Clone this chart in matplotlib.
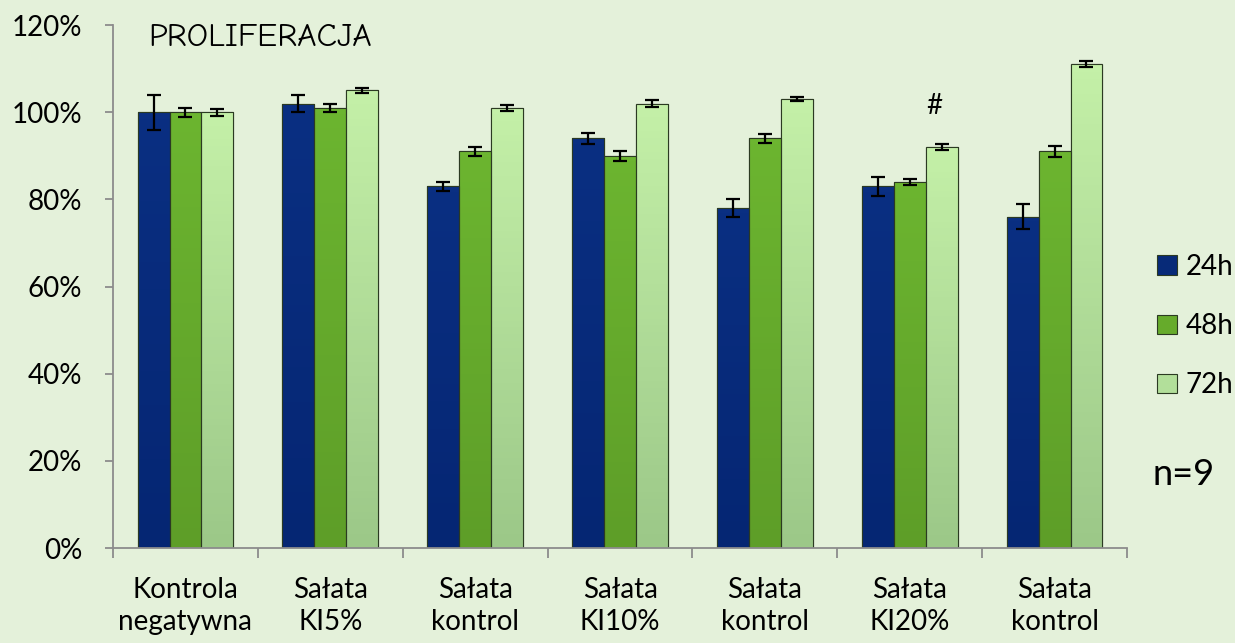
"""Proliferacja: słupki 24h/48h/72h z odchyleniami, odtworzenie wykresu."""

import matplotlib

matplotlib.use("Agg")

import matplotlib.pyplot as plt
import numpy as np
from matplotlib.colors import LinearSegmentedColormap
from matplotlib.ticker import FixedLocator, PercentFormatter

CATEGORIES = [
    "Kontrola\nnegatywna",
    "Sałata\nKI5%",
    "Sałata\nkontrol",
    "Sałata\nKI10%",
    "Sałata\nkontrol",
    "Sałata\nKI20%",
    "Sałata\nkontrol",
]
SERIES = ["24h", "48h", "72h"]
VALUES_24H = [1.00, 1.02, 0.83, 0.94, 0.78, 0.83, 0.76]
VALUES_48H = [1.00, 1.01, 0.91, 0.90, 0.94, 0.84, 0.91]
VALUES_72H = [1.00, 1.05, 1.01, 1.02, 1.03, 0.92, 1.11]
ERR_24H = [0.040, 0.020, 0.010, 0.013, 0.020, 0.022, 0.029]
ERR_48H = [0.010, 0.010, 0.010, 0.012, 0.010, 0.006, 0.013]
ERR_72H = [0.008, 0.005, 0.007, 0.008, 0.005, 0.006, 0.007]

COLORS = ["#072a78", "#66ab2b", "#b2df9a"]
# gradient (góra -> dół) dla każdej serii
GRADIENTS = [
    ["#0a2f82", "#052673"],
    ["#6cb530", "#5e9e28"],
    ["#c4f0a8", "#9cc888"],
]
BACKGROUND = "#e4f1da"
AXIS_COLOR = "#8c8c8c"

plt.rcParams["font.family"] = ["Lato", "DejaVu Sans"]

fig = plt.figure(figsize=(12.35, 6.43), dpi=100, facecolor=BACKGROUND)
ax = fig.add_axes([0.0915, 0.1477, 0.8211, 0.8133])
ax.set_facecolor(BACKGROUND)

x = np.arange(len(CATEGORIES))
width = 0.22
values = [VALUES_24H, VALUES_48H, VALUES_72H]
errors = [ERR_24H, ERR_48H, ERR_72H]
ramp = np.linspace(1, 0, 64).reshape(-1, 1)

for i, (name, vals, errs, color, grad) in enumerate(zip(SERIES, values, errors, COLORS, GRADIENTS)):
    pos = x + (i - 1) * width
    bars = ax.bar(
        pos,
        vals,
        width=width,
        color=color,
        edgecolor="#2b3a22",
        linewidth=0.8,
        label=name,
        zorder=2,
    )
    cmap = LinearSegmentedColormap.from_list(f"g{i}", [grad[1], grad[0]])
    for bar in bars:
        bx, by = bar.get_x(), bar.get_y()
        img = ax.imshow(
            ramp,
            cmap=cmap,
            aspect="auto",
            extent=(bx, bx + bar.get_width(), by, by + bar.get_height()),
            zorder=2.1,
        )
        img.set_clip_path(bar)
    ax.bar(pos, vals, width=width, fill=False, edgecolor="#2b3a22", linewidth=0.8, zorder=2.2)
    ax.errorbar(
        pos,
        vals,
        yerr=errs,
        fmt="none",
        ecolor="black",
        elinewidth=1.6,
        capsize=5,
        capthick=1.6,
        zorder=3,
    )

ax.set_xlim(-0.5, len(CATEGORIES) - 0.5)
ax.set_ylim(0, 1.2)
ax.set_yticks(np.arange(0, 1.21, 0.2))
ax.yaxis.set_major_formatter(PercentFormatter(1.0, decimals=0))

ax.set_xticks(x)
ax.set_xticklabels(CATEGORIES, fontsize=20, linespacing=1.3)
ax.xaxis.set_minor_locator(FixedLocator(np.arange(-0.5, len(CATEGORIES), 1.0)))
ax.tick_params(axis="x", which="major", length=0, pad=21)
ax.tick_params(axis="x", which="minor", length=7, width=1.3, color=AXIS_COLOR)
ax.tick_params(axis="y", length=6, width=1.3, color=AXIS_COLOR, labelsize=20, pad=16)

for side in ["top", "right"]:
    ax.spines[side].set_visible(False)
for side in ["left", "bottom"]:
    ax.spines[side].set_color(AXIS_COLOR)
    ax.spines[side].set_linewidth(1.3)

ax.text(
    0.0345, 0.975, "PROLIFERACJA",
    transform=ax.transAxes,
    fontsize=24,
    family=["Comic Neue", "Open Sans", "DejaVu Sans"],
    ha="left", va="center",
)
ax.text(5.17, 1.015, "#", fontsize=20, ha="center", va="center")

fig.text(0.933, 0.262, "n=9", fontsize=26, ha="left", va="center")

legend = ax.legend(
    loc="center left",
    bbox_to_anchor=(1.03, 0.4245),
    frameon=False,
    fontsize=20,
    borderpad=0,
    borderaxespad=0,
    handlelength=0.7,
    handleheight=0.7,
    handletextpad=0.3,
    labelspacing=1.2,
)

fig.savefig("out.png", dpi=100, facecolor=BACKGROUND)
